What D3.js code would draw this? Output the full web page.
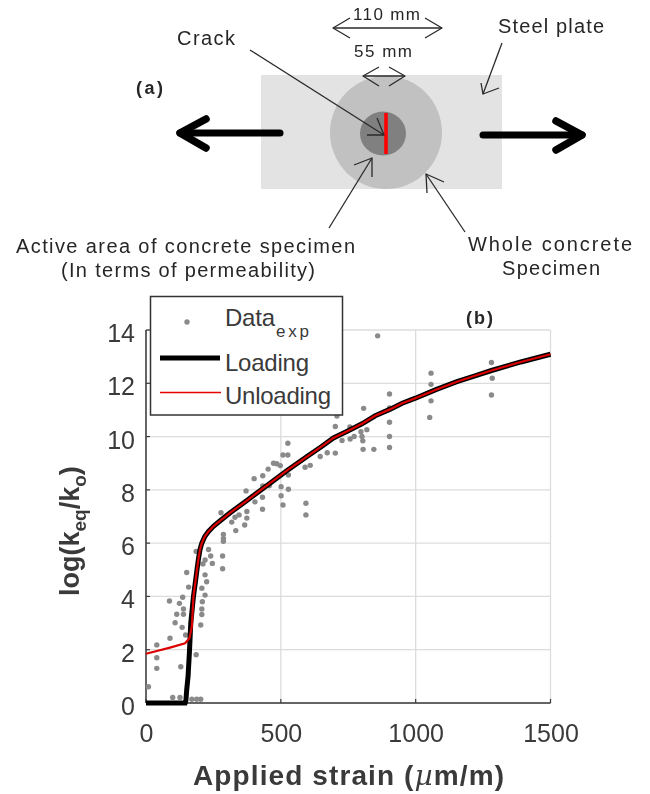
<!DOCTYPE html>
<html><head><meta charset="utf-8">
<script src="https://cdnjs.cloudflare.com/ajax/libs/d3/7.8.5/d3.min.js"></script>
<style>html,body{margin:0;padding:0;background:#fff}svg{display:block;filter:blur(0.55px)}</style>
</head><body><svg id="c" width="650" height="794"></svg>
<script>
const xTicks=[0,500,1000,1500];
const yTicks=[0,2,4,6,8,10,12,14];
const expX=[9,40,40,40,87,89,99,126,108,114,124,129,134,136,139,139,147,151,158,170,188,203,186,203,207,207,209,219,207,225,219,211,246,219,240,284,232,186,284,287,287,287,278,318,330,345,374,374,366,333,404,432,432,371,433,457,401,433,453,473,485,498,508,526,526,528,528,501,501,508,593,593,590,609,646,672,702,702,708,727,756,757,772,797,801,804,805,807,819,845,859,903,903,903,903,903,1057,1057,1057,1052,1281,1284,1281];
const expY=[.61,2.18,1.70,1.30,3.83,2.43,.21,.21,3.01,3.33,3.74,1.36,2.84,3.97,3.53,3.33,2.55,4.90,4.35,.14,.14,.14,1.81,2.93,3.32,3.53,3.80,4.05,4.31,4.55,4.81,5.22,5.24,5.37,5.52,5.52,5.76,5.69,5.04,6.33,6.18,6.07,7.14,6.79,6.97,7.06,7.19,6.94,6.68,6.47,7.55,7.27,7.72,7.96,8.15,8.15,8.42,8.53,8.78,9.0,8.98,8.91,9.31,9.31,9.75,8.56,8.02,8.12,7.78,7.43,7.50,7.06,8.85,8.92,9.25,9.39,9.38,10.38,10.77,9.85,10.36,9.91,10.0,10.18,10.0,9.84,9.52,11.06,10.26,9.52,13.78,11.6,11.07,10.54,10.0,9.59,12.38,11.96,11.34,10.72,12.78,12.19,11.56];
const upperX=[176,180,184,189,194,200,207,218,231,250,275,312,374,420,460,522,597,650,695,750,801,850,906,950,999,1075,1153,1220,1281,1390,1500];
const upperY=[4.0,4.3,4.6,5.0,5.37,5.75,6.0,6.25,6.43,6.63,6.84,7.14,7.6,7.95,8.25,8.72,9.25,9.62,9.95,10.22,10.48,10.78,11.03,11.25,11.44,11.76,12.06,12.28,12.48,12.8,13.09];
const loadX=[0,145,148,151,156,161,166,170].concat(upperX);
const loadY=[0,0,.1,.5,1.0,1.9,3.0,3.4].concat(upperY);
const unloadX=[0,40,89,145,161,170].concat(upperX);
const unloadY=[1.85,1.95,2.08,2.24,2.43,2.87].concat(upperY);

const svg=d3.select('#c');
const x=d3.scaleLinear().domain([0,1500]).range([146,550.5]);
const y=d3.scaleLinear().domain([0,14]).range([703,330]);
const TICK='#3a3a3a', FONT='"Liberation Sans",Arial,sans-serif';

// ---- panel (a)
const a=svg.append('g');
a.append('rect').attr('x',261).attr('y',75).attr('width',241).attr('height',114).attr('fill','#e3e3e3');
a.append('ellipse').attr('cx',386).attr('cy',132.5).attr('rx',56).attr('ry',56.5).attr('fill','#c1c1c1');
a.append('ellipse').attr('cx',383).attr('cy',133.5).attr('rx',23).attr('ry',22).attr('fill','#808080');
a.append('line').attr('x1',386).attr('x2',386).attr('y1',113).attr('y2',154).attr('stroke','#f00').attr('stroke-width',3.6);
const thin=(pts,w=1.3,c='#2a2a2a')=>a.append('path').attr('d',d3.line()(pts)).attr('fill','none').attr('stroke',c).attr('stroke-width',w).attr('stroke-linejoin','round').attr('stroke-linecap',w>3?'round':'butt');
// thick load arrows
thin([[280,133],[180,133]],7,'#000');thin([[483,135],[582,135]],7,'#000');
thin([[206,119],[180,133],[206,148]],7.5,'#000');
thin([[556,121],[582,135],[556,150]],7.5,'#000');
// dimension arrows
thin([[350,18],[333,28],[350,38]]);thin([[425,18],[442,28],[425,38]]);thin([[333,28],[442,28]]);
thin([[379,67],[363,76],[379,86]]);thin([[389,67],[405,76],[389,86]]);thin([[363,76],[405,76]]);
// callouts
thin([[250,50],[384,135]]);thin([[367,135],[384,135],[377,118]]);
thin([[502,43],[483,94]]);thin([[481,83],[483,94],[499,88]]);
thin([[329,228],[372,158]]);thin([[354,165],[372,158],[372,177]]);
thin([[465,232],[426,174]]);thin([[427,193],[426,174],[444,182]]);
const lab=(s,xx,yy,len,size,weight)=>a.append('text').text(s).attr('x',xx).attr('y',yy).attr('textLength',len).attr('lengthAdjust','spacing')
  .attr('font-family',FONT).attr('font-size',size).attr('font-weight',weight||400).attr('fill','#262626');
lab('Crack',177,45,58,20);
lab('110 mm',353,20,67,17);
lab('55 mm',354,57,58,17);
lab('Steel plate',498,33,106,20);
lab('(a)',136,94,27,18,700);
lab('Active area of concrete specimen',16,253,339,20);
lab('(In terms of permeability)',61,277,254,20);
lab('Whole concrete',468,251,164,20);
lab('Specimen',502,275,98,20);
lab('(b)',466,324,27,18,700);

// ---- panel (b)
svg.append('g').selectAll('line').data(xTicks).join('line').attr('x1',d=>x(d)).attr('x2',d=>x(d)).attr('y1',y(14)).attr('y2',y(0)).attr('stroke','#dcdcdc').attr('stroke-width',1.3);
svg.append('g').selectAll('line').data(yTicks).join('line').attr('x1',x(0)).attr('x2',x(1500)).attr('y1',d=>y(d)).attr('y2',d=>y(d)).attr('stroke','#dcdcdc').attr('stroke-width',1.3);
const xAx=svg.append('g').attr('transform','translate(0,703)').call(d3.axisBottom(x).tickValues(xTicks).tickFormat(d3.format('d')).tickSize(0).tickPadding(21));
const yAx=svg.append('g').attr('transform','translate(146,0)').call(d3.axisLeft(y).tickValues(yTicks).tickSize(0).tickPadding(11));
[xAx,yAx].forEach(g=>{g.select('.domain').remove();g.selectAll('text').attr('font-family',FONT).attr('font-size',25).attr('fill','#3a3a3a');});
yAx.selectAll('text').attr('dy','0.46em');
svg.append('line').attr('x1',x(0)).attr('x2',x(0)).attr('y1',y(14)).attr('y2',y(0)).attr('stroke',TICK).attr('stroke-width',1.5);
svg.append('line').attr('x1',x(0)).attr('x2',x(1500)).attr('y1',y(0)).attr('y2',y(0)).attr('stroke',TICK).attr('stroke-width',1.5);
svg.append('g').selectAll('line').data(yTicks).join('line').attr('x1',x(0)).attr('x2',x(0)+4).attr('y1',d=>y(d)).attr('y2',d=>y(d)).attr('stroke',TICK).attr('stroke-width',1.2);
svg.append('g').selectAll('line').data(xTicks).join('line').attr('x1',d=>x(d)).attr('x2',d=>x(d)).attr('y1',y(0)).attr('y2',y(0)-4).attr('stroke',TICK).attr('stroke-width',1.2);

svg.append('g').selectAll('circle').data(expX.map((d,i)=>[d,expY[i]])).join('circle')
  .attr('cx',d=>x(d[0])).attr('cy',d=>y(d[1])).attr('r',2.7).attr('fill','#8a8a8a');
const ln=d3.line().x(d=>x(d[0])).y(d=>y(d[1]));
svg.append('path').attr('d',ln(loadX.map((d,i)=>[d,loadY[i]]))).attr('fill','none').attr('stroke','#000').attr('stroke-width',5);
svg.append('path').attr('d',ln(unloadX.map((d,i)=>[d,unloadY[i]]))).attr('fill','none').attr('stroke','#dc0000').attr('stroke-width',2.2);

// axis titles
const xt=svg.append('text').attr('x',193).attr('y',785).attr('textLength',311).attr('lengthAdjust','spacing').attr('font-family',FONT).attr('font-size',28).attr('font-weight',700).attr('fill','#3a3a3a');
xt.append('tspan').text('Applied strain (');
xt.append('tspan').text('µ').attr('font-style','italic').attr('font-family','"DejaVu Serif",serif').attr('font-weight',400);
xt.append('tspan').text('m/m)');
const yt=svg.append('text').attr('transform','translate(79,596) rotate(-90)').attr('font-family',FONT).attr('font-size',27).attr('font-weight',700).attr('fill','#3a3a3a');
yt.append('tspan').text('log(k');
yt.append('tspan').text('eq').attr('font-size',19).attr('dy',7);
yt.append('tspan').text('/k').attr('dy',-7);
yt.append('tspan').text('o').attr('font-size',19).attr('dy',7);
yt.append('tspan').text(')').attr('dy',-7);

// legend
const leg=svg.append('g');
leg.append('rect').attr('x',150.5).attr('y',296.5).attr('width',192).attr('height',118.5).attr('fill','#fff').attr('stroke','#333').attr('stroke-width',1.5);
leg.append('circle').attr('cx',187).attr('cy',322).attr('r',2.7).attr('fill','#8a8a8a');
leg.append('line').attr('x1',160).attr('x2',220).attr('y1',358).attr('y2',358).attr('stroke','#000').attr('stroke-width',5);
leg.append('line').attr('x1',160).attr('x2',221).attr('y1',392.5).attr('y2',392.5).attr('stroke','#e60000').attr('stroke-width',1.7);
const lt=(s,xx,yy,size,len)=>leg.append('text').text(s).attr('x',xx).attr('y',yy).attr('font-family',FONT).attr('font-size',size).attr('fill','#3a3a3a').attr('textLength',len).attr('lengthAdjust','spacing');
lt('Data',225,326,24,50);
lt('exp',276,337,17,33);
lt('Loading',225,371,24,84);
lt('Unloading',225,404,24,106);
</script></body></html>
